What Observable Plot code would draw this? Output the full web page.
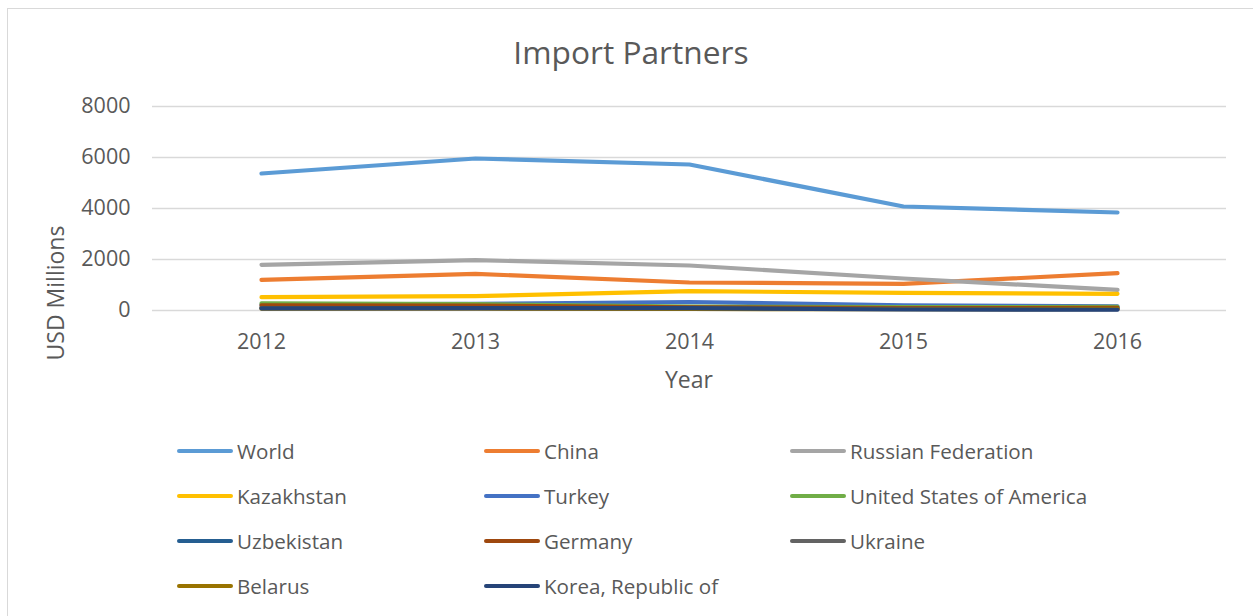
<!DOCTYPE html>
<html>
<head>
<meta charset="utf-8">
<script src="https://cdn.jsdelivr.net/npm/d3@7"></script>
<script src="https://cdn.jsdelivr.net/npm/@observablehq/plot@0.6"></script>
<style>
  html, body { margin: 0; padding: 0; background: #fff; overflow: hidden; }
  #wrap { position: relative; width: 1253px; height: 616px; overflow: hidden; font-family: "Open Sans", sans-serif; color: #595959; }
  #frame { position: absolute; left: 7px; top: 8px; width: 1300px; height: 700px; border: 1.5px solid #d9d9d9; box-sizing: border-box; }
  #title { position: absolute; left: 0; width: 1262px; top: 32px; text-align: center; font-size: 31.7px; line-height: 40px; white-space: nowrap; }
  #chart { position: absolute; left: 0; top: 0; }
  #ylab { position: absolute; left: 55px; top: 293px; transform: translate(-50%, -50%) rotate(-90deg); font-size: 23px; white-space: nowrap; line-height: 30px; }
  #xlab { position: absolute; left: 689px; top: 364px; transform: translateX(-50%); font-size: 23px; white-space: nowrap; line-height: 30px; }
  .leg { position: absolute; display: flex; align-items: center; font-size: 20.6px; white-space: nowrap; height: 30px; }
  .sw { width: 56px; height: 4.5px; border-radius: 3px; margin-right: 4px; }
</style>
</head>
<body>
<div id="wrap">
  <div id="frame"></div>
  <div id="title">Import Partners</div>
  <div id="chart"></div>
  <div id="ylab">USD Millions</div>
  <div id="xlab">Year</div>
  <div id="legend"></div>
</div>
<script>
const years = ["2012", "2013", "2014", "2015", "2016"];
const seriesNames = ["World", "China", "Russian Federation", "Kazakhstan", "Turkey", "United States of America", "Uzbekistan", "Germany", "Ukraine", "Belarus", "Korea, Republic of"];
const seriesColors = ["#5B9BD5", "#ED7D31", "#A5A5A5", "#FFC000", "#4472C4", "#70AD47", "#255E91", "#9E480E", "#636363", "#997300", "#264478"];
const world      = [5373, 5961, 5725, 4078, 3843];
const china      = [1203, 1438, 1098, 1046, 1463];
const russia     = [1792, 1975, 1765, 1255, 812];
const kazakhstan = [522, 561, 757, 694, 655];
const turkey     = [230, 260, 333, 200, 160];
const usa        = [280, 250, 150, 130, 140];
const uzbekistan = [120, 130, 100, 80, 90];
const germany    = [200, 190, 120, 90, 100];
const ukraine    = [90, 80, 70, 60, 50];
const belarus    = [70, 80, 60, 50, 60];
const korea      = [80, 90, 90, 40, 30];
const yTicks = [0, 2000, 4000, 6000, 8000];

const seriesValues = [world, china, russia, kazakhstan, turkey, usa, uzbekistan, germany, ukraine, belarus, korea];
const data = [];
seriesNames.forEach((name, i) => {
  years.forEach((yr, j) => data.push({series: name, year: yr, value: seriesValues[i][j]}));
});

const plot = Plot.plot({
  width: 1253,
  height: 400,
  marginTop: 106,
  marginBottom: 90,
  marginLeft: 152,
  marginRight: 27,
  style: { fontFamily: "'Open Sans', sans-serif", color: "#595959", background: "transparent", overflow: "visible" },
  x: { type: "point", domain: years, padding: 0.5 },
  y: { domain: [0, 8000] },
  color: { domain: seriesNames, range: seriesColors },
  marks: [
    Plot.gridY(yTicks, { stroke: "#d9d9d9", strokeOpacity: 1, strokeWidth: 1.4 }),
    Plot.axisY(yTicks, { tickSize: 0, tickPadding: 22, fontSize: 21.5, label: null, tickFormat: d => String(d) }),
    Plot.axisX({ tickSize: 0, tickPadding: 23, fontSize: 21.5, label: null }),
    Plot.line(data, { x: "year", y: "value", z: "series", stroke: "series", strokeWidth: 4.2, strokeLinecap: "round", strokeLinejoin: "round" })
  ]
});
document.getElementById("chart").appendChild(plot);

// legend (3 columns)
const legend = document.getElementById("legend");
const colX = [177, 484, 790];
const rowY = [451, 496, 541, 586];
seriesNames.forEach((name, i) => {
  const el = document.createElement("div");
  el.className = "leg";
  el.style.left = colX[i % 3] + "px";
  el.style.top = (rowY[Math.floor(i / 3)] - 15) + "px";
  const sw = document.createElement("div");
  sw.className = "sw";
  sw.style.background = seriesColors[i];
  el.appendChild(sw);
  const t = document.createElement("span");
  t.textContent = name;
  el.appendChild(t);
  legend.appendChild(el);
});
</script>
</body>
</html>
